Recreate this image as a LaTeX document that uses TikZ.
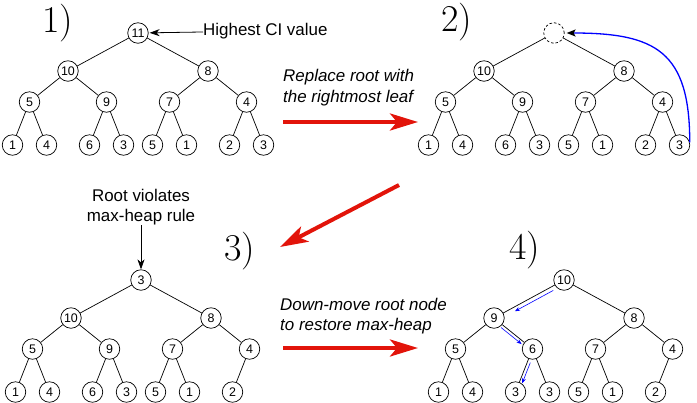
\documentclass[tikz,border=0pt]{standalone}
\usepackage{fontspec}
\setsansfont{Liberation Sans}
\usetikzlibrary{arrows.meta}
\definecolor{heapred}{RGB}{226,20,10}

\begin{document}
\begin{tikzpicture}[x=1bp,y=1bp,
  key/.style={circle,draw,line width=0.7bp,inner sep=0pt,minimum size=20.5bp,font=\sffamily\fontsize{12.5}{12.5}\selectfont},
  hole/.style={key,dash pattern=on 2.5bp off 2bp},
  every child node/.style={key},
  edge from parent/.style={draw,line width=0.7bp},
  level 1/.style={level distance=38bp,sibling distance=140bp},
  level 2/.style={level distance=31bp,sibling distance=77bp},
  level 3/.style={level distance=43bp,sibling distance=34bp},
  steplabel/.style={anchor=base,inner sep=0pt,font=\fontsize{38}{38}\selectfont},
  note/.style={inner sep=0pt,font=\sffamily\fontsize{17}{20.5}\selectfont},
  pointer/.style={line width=0.8bp,-{Stealth[length=10bp,width=7bp,inset=3bp]}},
  redarrow/.style={heapred,line width=4bp,-{Stealth[length=28bp,width=17bp,inset=7bp]}},
  move/.style={blue,line width=0.6bp,-{Stealth[length=5bp,width=4bp]}}]
  \useasboundingbox (0,0) rectangle (697,-402);

  % step labels
  \node[steplabel] (s1) at (58,-32) {1)};
  \node[steplabel] (s2) at (457,-31) {2)};
  \node[steplabel] (s3) at (240,-260) {3)};
  \node[steplabel] (s4) at (525,-259) {4)};

  % 1) the heap
  \node[key] (heapA) at (138,-33) {11}
    child {node {10}
      child {node {5} child {node {1}} child {node {4}}}
      child {node {9} child {node {6}} child {node {3}}}}
    child {node {8}
      child {node {7} child {node {5}} child {node {1}}}
      child {node {4} child {node {2}} child {node {3}}}};
  \node[note,anchor=west] (hint) at (203,-31) {Highest CI value};
  \draw[pointer,shorten >=1bp] (hint) -- (heapA);

  % 2) root replaced
  \node[hole] (heapB) at (554,-33) {}
    child {node {10}
      child {node {5} child {node {1}} child {node {4}}}
      child {node {9} child {node {6}} child {node {3}}}}
    child {node {8}
      child {node {7} child {node {5}} child {node {1}}}
      child {node {4} child {node {2}} child {node {3}}}};
  \draw[blue,line width=1.3bp,shorten >=2bp,-{Stealth[black,length=9bp,width=7bp,inset=2bp]}]
    (heapB-2-2-2.15) to[out=90,in=0,looseness=1.4] (heapB.east);

  % 3) root violates the rule
  \node[key] (heapC) at (141,-280) {3}
    child {node {10}
      child {node {5} child {node {1}} child {node {4}}}
      child {node {9} child {node {6}} child {node {3}}}}
    child {node {8}
      child {node {7} child {node {5}} child {node {1}}}
      child {node {4} child {node {2}} child[missing]}};
  \node[note,align=center] (why) at (141,-207) {Root violates\\max-heap rule};
  \draw[pointer] (why) -- (heapC);

  % 4) restored heap
  \node[key] (heapD) at (564,-280) {10}
    child {node {9}
      child {node {5} child {node {1}} child {node {4}}}
      child {node {6} child {node {3}} child {node {3}}}}
    child {node {8}
      child {node {7} child {node {5}} child {node {1}}}
      child {node {4} child {node {2}} child[missing]}};
  \draw[move,shorten <=4bp,shorten >=11bp,transform canvas={shift={(2,-3.5)}}] (heapD) -- (heapD-1);
  \draw[move,shorten <=1bp,shorten >=1bp,transform canvas={shift={(-1.9,-2.3)}}] (heapD-1) -- (heapD-1-2);
  \draw[move,shorten <=3bp,transform canvas={shift={(2.8,-1)}}] (heapD-1-2) -- (heapD-1-2-1);

  % steps between panels
  \node[note,font=\sffamily\itshape\fontsize{17}{21}\selectfont,align=left,anchor=west] (replace) at (283,-88)
    {Replace root with\\the rightmost leaf};
  \node[note,font=\sffamily\itshape\fontsize{17}{20}\selectfont,align=left,anchor=west] (downmove) at (280,-316)
    {Down-move root node\\to restore max-heap};
  \coordinate (r1a) at (283,-122);
  \coordinate (r1b) at (418,-122);
  \coordinate (r2a) at (399,-185);
  \coordinate (r2b) at (280,-247);
  \coordinate (r3a) at (283,-348);
  \coordinate (r3b) at (418,-348);
  \draw[redarrow] (r1a) -- (r1b);
  \draw[redarrow] (r2a) -- (r2b);
  \draw[redarrow] (r3a) -- (r3b);
\end{tikzpicture}
\end{document}
